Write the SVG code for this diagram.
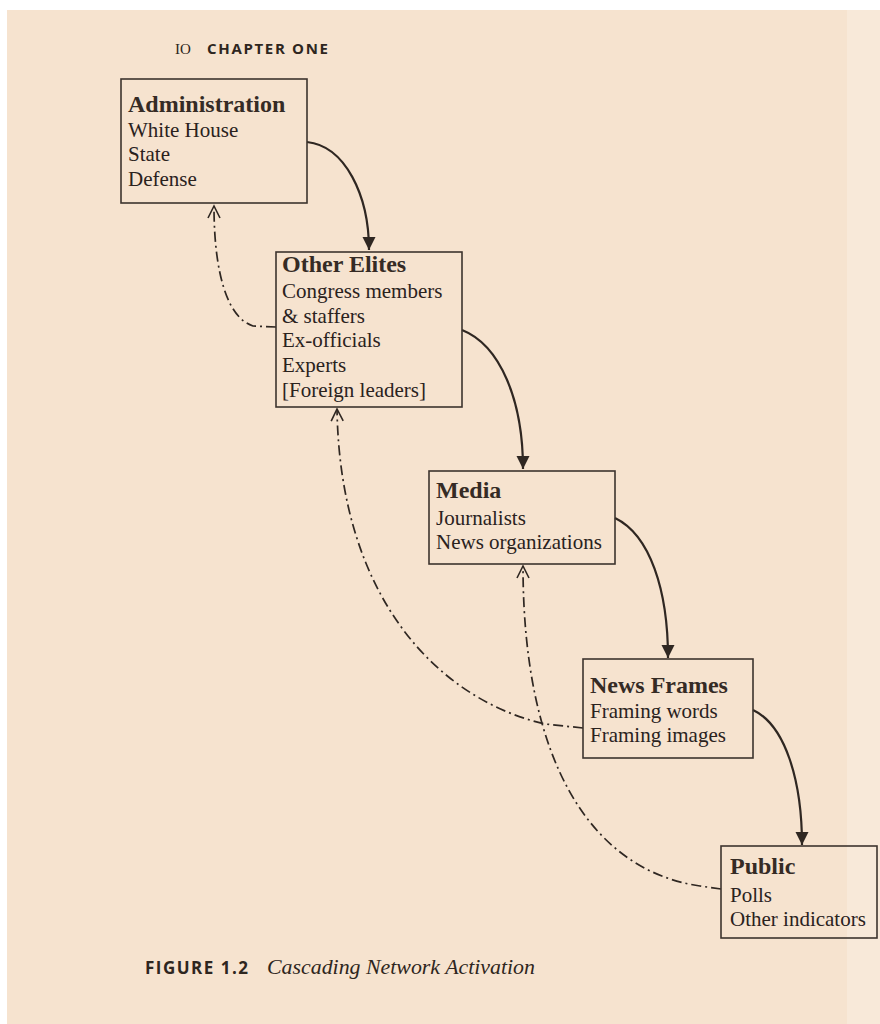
<svg xmlns="http://www.w3.org/2000/svg" width="880" height="1024" viewBox="0 0 880 1024">
  <style>
    .box { fill: none; stroke: #3d342e; stroke-width: 1.6; }
    .title { font-family: "Liberation Serif", "Times New Roman", serif; font-weight: bold; font-size: 24px; fill: #352b25; }
    .item { font-family: "Liberation Serif", "Times New Roman", serif; font-size: 21px; fill: #2a221d; }
    .solid { fill: none; stroke: #2f2722; stroke-width: 2.2; }
    .dash { fill: none; stroke: #2f2722; stroke-width: 1.7; stroke-dasharray: 10 4 2 4; }
    .head { font-family: "Open Sans", "Liberation Sans", sans-serif; font-weight: bold; font-size: 15px; fill: #2e2620; }
    .fig { font-family: "Open Sans", "Liberation Sans", sans-serif; font-weight: bold; font-size: 17px; fill: #2e2620; }
    .cap { font-family: "Liberation Serif", "Times New Roman", serif; font-style: italic; font-size: 21px; fill: #2e2620; }
  </style>
  <defs>
    <marker id="filled" markerUnits="userSpaceOnUse" markerWidth="14" markerHeight="14" refX="13" refY="6.5" orient="auto">
      <path d="M0,0 L13,6.5 L0,13 Z" fill="#2f2722"/>
    </marker>
    <marker id="open" markerUnits="userSpaceOnUse" markerWidth="16" markerHeight="16" refX="13" refY="7" orient="auto">
      <path d="M1,1 L13,7 L1,13" fill="none" stroke="#2f2722" stroke-width="1.6"/>
    </marker>
  </defs>

  <rect x="0" y="0" width="880" height="1024" fill="#ffffff"/>
  <rect x="7" y="10" width="873" height="1014" fill="#f6e3cf"/>
  <rect x="847" y="10" width="33" height="1014" fill="#f8e9d9"/>

  <g id="header">
    <text x="175" y="54" font-family="Liberation Serif, serif" font-size="15" fill="#2e2620">IO</text>
    <text class="head" x="207" y="54" textLength="121" lengthAdjust="spacing">CHAPTER ONE</text>
  </g>

  <g id="connectors">
    <path class="solid" marker-end="url(#filled)" d="M307,142 C345,146 369,195 369,250"/>
    <path class="solid" marker-end="url(#filled)" d="M462,330 C500,345 523,400 523,469"/>
    <path class="solid" marker-end="url(#filled)" d="M615,518 C650,535 668,590 668,658"/>
    <path class="solid" marker-end="url(#filled)" d="M753,710 C785,725 802,780 802,845"/>
    <path class="dash" marker-end="url(#open)" d="M276,327 L253,326 C228,318 214,275 214,206"/>
    <path class="dash" marker-end="url(#open)" d="M583,728 L545,724 C440,700 340,600 337,409"/>
    <path class="dash" marker-end="url(#open)" d="M721,889 L700,886 C590,870 523,760 523,566"/>
  </g>

  <g id="administration">
    <rect class="box" x="121" y="79" width="186" height="124"/>
    <text class="title" x="128" y="112">Administration</text>
    <text class="item" x="128" y="137">White House</text>
    <text class="item" x="128" y="161">State</text>
    <text class="item" x="128" y="186">Defense</text>
  </g>

  <g id="other-elites">
    <rect class="box" x="276" y="252" width="186" height="155"/>
    <text class="title" x="282" y="272">Other Elites</text>
    <text class="item" x="282" y="298">Congress members</text>
    <text class="item" x="282" y="323">&amp; staffers</text>
    <text class="item" x="282" y="347">Ex-officials</text>
    <text class="item" x="282" y="372">Experts</text>
    <text class="item" x="282" y="397">[Foreign leaders]</text>
  </g>

  <g id="media">
    <rect class="box" x="429" y="471" width="186" height="93"/>
    <text class="title" x="436" y="498">Media</text>
    <text class="item" x="436" y="525">Journalists</text>
    <text class="item" x="436" y="549">News organizations</text>
  </g>

  <g id="news-frames">
    <rect class="box" x="583" y="659" width="170" height="99"/>
    <text class="title" x="590" y="693">News Frames</text>
    <text class="item" x="590" y="718">Framing words</text>
    <text class="item" x="590" y="742">Framing images</text>
  </g>

  <g id="public">
    <rect class="box" x="721" y="846" width="156" height="92"/>
    <text class="title" x="730" y="874">Public</text>
    <text class="item" x="730" y="902">Polls</text>
    <text class="item" x="730" y="926">Other indicators</text>
  </g>

  <g id="caption">
    <text class="fig" x="145" y="974" textLength="103" lengthAdjust="spacing">FIGURE 1.2</text>
    <text class="cap" x="267" y="974" textLength="268" lengthAdjust="spacingAndGlyphs">Cascading Network Activation</text>
  </g>
</svg>
